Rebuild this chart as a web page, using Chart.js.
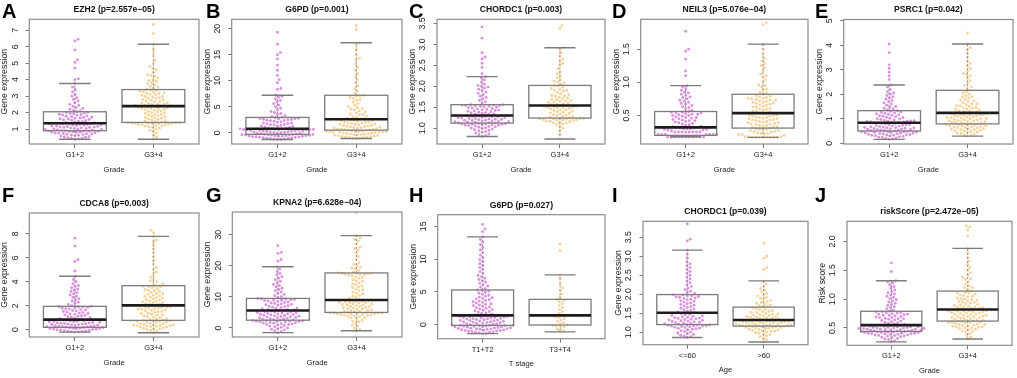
<!DOCTYPE html>
<html>
<head>
<meta charset="utf-8">
<script src="https://cdn.jsdelivr.net/npm/chart.js@4.4.0/dist/chart.umd.min.js"></script>
<style>
  body { margin: 0; background: #fff; }
  #fig { position: relative; width: 1017px; height: 378px; overflow: hidden; }
  #fig canvas { position: absolute; }
</style>
</head>
<body>
<div id="fig"></div>
<script>
// groups on the x axis
const gradeGroups = ['G1+2', 'G3+4'];
const tStageGroups = ['T1+T2', 'T3+T4'];
const ageGroups = ['<=60', '>60'];

const panelLetters = ['A', 'B', 'C', 'D', 'E', 'F', 'G', 'H', 'I', 'J'];
const panelTitles = ['EZH2 (p=2.557e\u221205)', 'G6PD (p=0.001)', 'CHORDC1 (p=0.003)', 'NEIL3 (p=5.076e\u221204)', 'PSRC1 (p=0.042)',
    'CDCA8 (p=0.003)', 'KPNA2 (p=6.628e\u221204)', 'G6PD (p=0.027)', 'CHORDC1 (p=0.039)', 'riskScore (p=2.472e\u221205)'];
const yTitles = ['Gene expression', 'Gene expression', 'Gene expression', 'Gene expression', 'Gene expression',
    'Gene expression', 'Gene expression', 'Gene expression', 'Gene expression', 'Risk score'];
const xTitles = ['Grade', 'Grade', 'Grade', 'Grade', 'Grade', 'Grade', 'Grade', 'T stage', 'Age', 'Grade'];
const xGroups = [gradeGroups, gradeGroups, gradeGroups, gradeGroups, gradeGroups,
    gradeGroups, gradeGroups, tStageGroups, ageGroups, gradeGroups];

// y tick labels
const ticksA = ['1', '2', '3', '4', '5', '6', '7'];
const ticksB = ['0', '5', '10', '15', '20'];
const ticksC = ['1.0', '1.5', '2.0', '2.5', '3.0', '3.5'];
const ticksD = ['0.5', '1.0', '1.5'];
const ticksE = ['0', '1', '2', '3', '4', '5'];
const ticksF = ['0', '2', '4', '6', '8'];
const ticksG = ['0', '10', '20', '30'];
const ticksH = ['0', '5', '10', '15'];
const ticksI = ['1.0', '1.5', '2.0', '2.5', '3.0', '3.5'];
const ticksJ = ['0.5', '1.0', '1.5', '2.0'];

// box stats per group: [lower whisker, q1, median, q3, upper whisker]
const boxA = [[0.38, 0.90, 1.35, 2.05, 3.77], [0.38, 1.40, 2.39, 3.40, 6.15]];
const boxB = [[-1.3, -0.3, 0.77, 2.95, 7.2], [-1.1, 0.5, 2.6, 7.2, 17.3]];
const boxC = [[0.80, 1.12, 1.30, 1.56, 2.23], [0.74, 1.24, 1.54, 2.02, 2.92]];
const boxD = [[0.18, 0.20, 0.32, 0.56, 0.95], [0.17, 0.31, 0.535, 0.82, 1.575]];
const boxE = [[0.16, 0.50, 0.84, 1.33, 2.38], [0.29, 0.79, 1.24, 2.16, 4.05]];
const boxF = [[-0.2, 0.2, 0.84, 1.95, 4.46], [-0.25, 0.78, 2.03, 3.68, 7.8]];
const boxG = [[-1.5, 2.5, 5.6, 9.5, 19.7], [-0.9, 5.0, 9.0, 17.7, 29.7]];
const boxH = [[-1.37, -0.1, 1.42, 5.3, 13.4], [-1.1, -0.05, 1.42, 3.86, 7.6]];
const boxI = [[0.86, 1.2, 1.51, 1.99, 3.16], [0.74, 1.16, 1.32, 1.66, 2.35]];
const boxJ = [[0.26, 0.44, 0.55, 0.79, 1.32], [0.31, 0.62, 0.82, 1.14, 1.88]];

// sample values
const ezh2G12 = [0.38,0.4,0.42,0.45,0.47,0.5,0.52,0.55,0.57,0.6,0.62,0.64,0.66,0.68,0.7,0.72,0.73,0.75,0.76,0.78,0.8,0.81,0.82,0.84,0.85,0.86,0.87,0.88,0.89,0.9,
    0.92,0.94,0.95,0.97,0.98,1.0,1.01,1.03,1.04,1.06,1.07,1.09,1.1,1.12,1.13,1.15,1.16,1.18,1.19,1.21,1.22,1.24,1.25,1.27,1.28,1.3,1.31,1.32,1.34,1.35,
    1.38,1.4,1.43,1.45,1.48,1.5,1.53,1.55,1.58,1.6,1.62,1.65,1.67,1.7,1.72,1.75,1.78,1.8,1.83,1.85,1.88,1.9,1.93,1.95,1.98,2.0,2.02,2.05,
    2.1,2.15,2.2,2.25,2.3,2.38,2.45,2.5,2.6,2.7,2.8,2.9,3.0,3.1,3.25,3.4,3.55,3.77,4.0,4.05,4.7,5.05,5.2,5.8,6.35,6.45];
const ezh2G34 = [0.38,0.5,0.62,0.75,0.85,0.92,1.0,1.05,1.1,1.15,1.18,1.22,1.25,1.28,1.3,1.32,1.34,1.35,1.36,1.37,1.38,1.4,
    1.45,1.5,1.55,1.6,1.65,1.7,1.75,1.8,1.85,1.9,1.95,2.0,2.05,2.1,2.15,2.2,2.25,2.28,2.3,2.33,2.36,2.39,
    2.42,2.45,2.5,2.53,2.56,2.6,2.65,2.7,2.75,2.8,2.85,2.9,2.95,3.0,3.05,3.1,3.15,3.2,3.25,3.3,3.35,3.4,
    3.5,3.6,3.7,3.8,3.9,4.0,4.1,4.2,4.3,4.45,4.6,4.7,4.8,5.0,5.2,5.5,5.8,6.15,6.8,7.35,
    1.2,1.26,1.33,1.38,1.42,1.48,1.58,1.68,1.78,1.88,1.98,2.08,2.18,2.26,2.35,2.44,2.48,2.58,2.68,2.78,2.88,2.98,3.08,3.18,3.28,3.38,3.55,3.75,3.95,4.25];

const g6pdG12 = [-1.35,-1.3,-1.25,-1.2,-1.15,-1.1,-1.05,-1.0,-0.95,-0.9,-0.85,-0.8,-0.78,-0.75,-0.7,-0.68,-0.65,-0.62,-0.6,-0.55,-0.52,-0.5,-0.48,-0.45,-0.42,-0.4,-0.38,-0.35,-0.32,-0.3,
    -0.25,-0.2,-0.15,-0.1,-0.05,0,0.05,0.1,0.12,0.15,0.2,0.25,0.28,0.3,0.35,0.4,0.42,0.45,0.5,0.52,0.55,0.58,0.6,0.62,0.65,0.68,0.7,0.72,0.75,0.77,
    0.85,0.9,1.0,1.1,1.2,1.25,1.3,1.4,1.5,1.55,1.6,1.7,1.8,1.85,1.9,2.0,2.1,2.2,2.3,2.35,2.4,2.5,2.55,2.6,2.65,2.7,2.75,2.8,2.9,2.95,
    3.1,3.3,3.5,3.7,3.9,4.1,4.4,4.7,5.0,5.3,5.6,5.9,6.2,6.5,6.8,7.0,7.2,8.3,8.5,9.6,10.2,11.0,12.0,13.0,14.2,15.0,15.4,17.0,19.3];
const g6pdG34 = [-1.1,-1.0,-0.9,-0.8,-0.7,-0.6,-0.5,-0.45,-0.4,-0.3,-0.2,-0.1,0,0.05,0.1,0.15,0.2,0.25,0.3,0.35,0.45,0.5,
    0.6,0.7,0.8,0.9,1.0,1.1,1.2,1.3,1.4,1.5,1.6,1.7,1.8,1.9,2.0,2.1,2.2,2.3,2.4,2.45,2.5,2.6,
    2.8,3.0,3.2,3.4,3.6,3.8,4.0,4.2,4.4,4.6,4.8,5.0,5.3,5.6,5.9,6.2,6.4,6.6,6.8,7.0,7.1,7.2,
    7.6,8.0,8.5,9.0,9.6,10.2,10.8,11.4,12.0,12.6,13.2,14.0,14.3,15.0,16.0,17.0,17.3,19.8,20.6,
    -1.05,-0.95,-0.85,-0.75,-0.65,-0.55,-0.35,-0.25,-0.15,-0.05,0.08,0.18,0.28,0.4,0.55,0.65,0.75,0.85,0.95,1.05,1.25,1.45,1.65,1.85,2.05,2.25,2.7,3.1,3.5,4.5];

const chordc1G12 = [0.8,0.82,0.84,0.86,0.88,0.9,0.92,0.93,0.95,0.96,0.98,0.99,1.0,1.01,1.02,1.03,1.04,1.05,1.06,1.07,1.07,1.08,1.08,1.09,1.09,1.1,1.1,1.11,1.11,1.12,
    1.13,1.13,1.14,1.14,1.15,1.15,1.16,1.17,1.17,1.18,1.19,1.19,1.2,1.21,1.21,1.22,1.23,1.23,1.24,1.25,1.25,1.26,1.27,1.27,1.28,1.28,1.29,1.29,1.3,1.3,
    1.31,1.32,1.33,1.34,1.35,1.36,1.37,1.38,1.39,1.4,1.41,1.42,1.43,1.44,1.45,1.46,1.47,1.48,1.49,1.5,1.51,1.52,1.52,1.53,1.54,1.54,1.55,1.55,1.56,1.56,
    1.6,1.63,1.66,1.7,1.73,1.76,1.8,1.83,1.86,1.9,1.93,1.96,1.98,2.0,2.02,2.05,2.1,2.15,2.2,2.23,2.3,2.45,2.55,2.65,2.7,2.8,3.15,3.42];
const chordc1G34 = [0.74,0.85,0.95,1.0,1.05,1.08,1.1,1.12,1.14,1.15,1.16,1.17,1.18,1.19,1.2,1.2,1.21,1.22,1.22,1.23,1.24,1.24,
    1.26,1.28,1.3,1.32,1.34,1.36,1.38,1.4,1.42,1.44,1.46,1.47,1.48,1.49,1.5,1.5,1.51,1.52,1.52,1.53,1.54,1.54,
    1.56,1.58,1.6,1.62,1.64,1.66,1.68,1.7,1.72,1.74,1.76,1.78,1.8,1.82,1.85,1.88,1.9,1.93,1.95,1.98,2.0,2.02,
    2.05,2.08,2.12,2.16,2.2,2.25,2.3,2.35,2.42,2.5,2.55,2.6,2.65,2.72,2.8,2.88,2.92,3.38,3.45,
    1.13,1.19,1.23,1.27,1.31,1.35,1.39,1.43,1.57,1.61,1.65,1.69,1.77,1.9,2.1];

const neil3G12 = [0.175,0.175,0.175,0.175,0.175,0.175,0.175,0.175,0.175,0.175,0.175,
    0.215,0.215,0.215,0.215,0.215,0.215,0.215,0.25,0.25,0.25,0.25,0.25,0.25,0.25,0.25,
    0.27,0.28,0.28,0.29,0.29,0.3,0.3,0.3,0.31,0.31,0.31,0.32,0.32,0.32,
    0.33,0.34,0.35,0.36,0.37,0.38,0.39,0.4,0.41,0.42,0.42,0.43,0.44,0.45,0.46,0.47,0.47,0.48,0.49,0.5,0.5,0.51,0.52,0.52,0.53,0.54,0.54,0.55,0.55,0.56,
    0.58,0.6,0.62,0.63,0.65,0.67,0.68,0.7,0.72,0.73,0.75,0.77,0.78,0.8,0.82,0.84,0.85,0.88,0.9,0.93,0.95,1.1,1.17,1.35,1.47,1.5,1.77];
const neil3G34 = [0.17,0.17,0.17,0.17,0.17,0.17,0.17,0.17,0.18,0.18,0.18,0.2,0.21,0.22,0.23,0.24,0.25,0.26,0.27,0.28,0.29,0.31,
    0.32,0.33,0.34,0.35,0.36,0.37,0.38,0.39,0.4,0.41,0.42,0.43,0.44,0.45,0.46,0.47,0.48,0.49,0.5,0.51,0.52,0.535,
    0.55,0.56,0.58,0.59,0.6,0.62,0.63,0.65,0.66,0.68,0.69,0.7,0.71,0.72,0.73,0.74,0.75,0.76,0.77,0.78,0.8,0.82,
    0.85,0.88,0.9,0.93,0.96,1.0,1.04,1.08,1.12,1.17,1.22,1.28,1.32,1.36,1.42,1.5,1.575,1.87,1.9,
    0.21,0.23,0.25,0.27,0.29,0.3,0.33,0.35,0.37,0.39,0.41,0.43,0.45,0.47,0.49,0.51,0.53,0.57,0.61,0.64,0.67,0.7,0.73,0.76,0.79,0.84,0.95,1.1,1.25];

const psrc1G12 = [0.16,0.18,0.2,0.22,0.24,0.25,0.27,0.28,0.3,0.31,0.32,0.33,0.34,0.35,0.36,0.37,0.38,0.39,0.4,0.41,0.42,0.43,0.44,0.45,0.46,0.47,0.47,0.48,0.49,0.5,
    0.51,0.52,0.53,0.54,0.55,0.56,0.57,0.58,0.59,0.6,0.61,0.62,0.63,0.64,0.65,0.66,0.67,0.68,0.7,0.71,0.72,0.73,0.75,0.76,0.77,0.79,0.8,0.81,0.83,0.84,
    0.85,0.86,0.87,0.88,0.89,0.9,0.9,0.91,0.92,0.93,0.95,0.97,0.99,1.0,1.02,1.04,1.06,1.08,1.1,1.12,1.14,1.16,1.18,1.2,1.22,1.24,1.26,1.28,1.3,1.33,
    1.36,1.4,1.43,1.47,1.5,1.55,1.6,1.65,1.7,1.75,1.8,1.85,1.9,1.95,2.0,2.05,2.1,2.2,2.3,2.38,2.6,2.75,2.9,3.05,3.2,3.7,4.05];
const psrc1G34 = [0.29,0.32,0.35,0.38,0.42,0.45,0.48,0.5,0.53,0.56,0.58,0.6,0.62,0.64,0.66,0.68,0.7,0.72,0.74,0.76,0.77,0.79,
    0.81,0.83,0.85,0.87,0.89,0.91,0.93,0.95,0.97,0.99,1.01,1.03,1.05,1.07,1.09,1.11,1.13,1.15,1.17,1.19,1.21,1.24,
    1.27,1.3,1.33,1.36,1.4,1.43,1.46,1.5,1.53,1.57,1.6,1.65,1.7,1.75,1.8,1.85,1.9,1.95,2.0,2.05,2.1,2.16,
    2.25,2.35,2.45,2.55,2.65,2.75,2.85,2.95,3.05,3.15,3.25,3.35,3.5,3.65,3.8,3.9,4.05,4.5,
    0.4,0.46,0.52,0.55,0.59,0.63,0.67,0.71,0.75,0.8,0.84,0.88,0.92,0.96,1.0,1.04,1.08,1.12,1.16,1.2,1.25,1.32,1.38,1.45,1.52,1.6,1.72,1.9,2.3,2.8];

const cdca8G12 = [-0.2,-0.18,-0.16,-0.14,-0.12,-0.1,-0.08,-0.05,-0.02,0,0.02,0.04,0.05,0.07,0.09,0.1,0.12,0.13,0.15,0.17,0.18,0.2,
    0.22,0.24,0.26,0.28,0.3,0.32,0.34,0.36,0.38,0.4,0.42,0.44,0.46,0.48,0.5,0.52,0.54,0.56,0.58,0.6,0.62,0.64,0.66,0.68,0.7,0.72,0.75,0.78,0.81,0.84,
    0.88,0.92,0.96,1.0,1.04,1.08,1.12,1.16,1.2,1.24,1.28,1.32,1.36,1.4,1.44,1.48,1.52,1.56,1.6,1.64,1.68,1.72,1.76,1.8,1.84,1.87,1.9,1.92,1.94,1.95,
    2.0,2.1,2.2,2.3,2.4,2.5,2.6,2.7,2.8,2.9,3.0,3.1,3.2,3.3,3.4,3.5,3.6,3.7,3.85,4.0,4.2,4.46,4.9,5.7,5.85,7.0,7.65];
const cdca8G34 = [-0.25,-0.1,0,0.1,0.15,0.2,0.25,0.28,0.3,0.32,0.35,0.38,0.4,0.45,0.5,0.55,0.6,0.63,0.68,0.72,0.75,0.78,
    0.85,0.92,1.0,1.08,1.15,1.22,1.3,1.38,1.45,1.52,1.58,1.64,1.7,1.75,1.8,1.85,1.88,1.92,1.95,1.98,2.0,2.03,
    2.1,2.18,2.25,2.32,2.4,2.48,2.56,2.64,2.72,2.8,2.88,2.96,3.04,3.12,3.2,3.28,3.36,3.44,3.52,3.58,3.63,3.68,
    3.8,3.95,4.1,4.25,4.4,4.6,4.8,5.0,5.2,5.5,5.8,6.1,6.4,6.7,7.0,7.3,7.5,7.8,8.1,8.3,
    -0.05,0.05,0.12,0.22,0.33,0.42,0.52,0.62,0.7,0.8,0.9,1.05,1.2,1.35,1.5,1.62,1.72,1.82,1.9,2.06,2.14,2.22,2.36,2.52,2.68,2.84,3.0,3.3,3.6,4.0];

const kpna2G12 = [-1.5,-1.2,-0.9,-0.6,-0.4,-0.2,0,0.2,0.4,0.6,0.8,1.0,1.1,1.2,1.3,1.4,1.5,1.6,1.7,1.8,1.9,2.0,2.05,2.1,2.15,2.2,2.3,2.35,2.4,2.5,
    2.6,2.7,2.8,2.9,3.0,3.1,3.2,3.3,3.4,3.5,3.6,3.7,3.8,3.9,4.0,4.1,4.2,4.3,4.4,4.5,4.6,4.7,4.8,4.9,5.0,5.1,5.2,5.3,5.45,5.6,
    5.7,5.8,5.9,6.0,6.1,6.25,6.4,6.55,6.7,6.85,7.0,7.15,7.3,7.45,7.6,7.75,7.9,8.05,8.2,8.35,8.5,8.65,8.8,8.9,9.0,9.1,9.2,9.3,9.4,9.5,
    9.8,10.1,10.4,10.8,11.2,11.6,12.0,12.4,12.8,13.2,13.6,14.0,14.5,15.0,15.5,16.0,16.5,17.0,17.5,18.2,19.0,19.7,21.5,22.0,24.0,24.3,26.5];
const kpna2G34 = [-0.9,-0.5,0,0.5,1.0,1.5,2.0,2.5,3.0,3.3,3.6,3.8,4.0,4.2,4.3,4.4,4.5,4.6,4.7,4.8,4.9,5.0,
    5.2,5.4,5.6,5.8,6.0,6.2,6.4,6.6,6.8,7.0,7.2,7.4,7.6,7.8,8.0,8.2,8.4,8.5,8.6,8.8,8.9,9.0,
    9.5,10.0,10.5,11.0,11.5,12.0,12.5,13.0,13.5,14.0,14.5,15.0,15.5,16.0,16.4,16.8,17.0,17.2,17.4,17.5,17.6,17.7,
    18.0,18.5,19.0,19.5,20.0,20.5,21.0,22.0,23.0,24.0,25.0,25.5,26.0,27.0,28.0,28.5,29.0,29.7,37.0,
    2.2,3.2,3.9,4.1,4.35,4.55,4.75,4.95,5.3,5.7,6.1,6.5,6.9,7.3,7.7,8.1,8.3,8.7,9.2,10.2,11.2,12.2,13.2,14.2,15.2,16.2,17.1,17.3,17.8,19.2];

const g6pdT12 = [-1.37,-1.3,-1.25,-1.2,-1.15,-1.1,-1.05,-1.0,-0.95,-0.9,-0.87,-0.84,-0.8,-0.77,-0.74,-0.7,-0.67,-0.64,-0.6,-0.57,-0.54,-0.5,-0.47,-0.44,-0.4,-0.37,-0.34,-0.3,-0.27,-0.24,-0.2,-0.17,-0.15,-0.13,-0.11,-0.1,
    -0.05,0,0.05,0.1,0.15,0.2,0.25,0.3,0.33,0.36,0.4,0.45,0.5,0.55,0.6,0.63,0.66,0.7,0.75,0.8,0.85,0.9,0.93,0.96,1.0,1.05,1.1,1.13,1.16,1.2,1.24,1.28,1.32,1.35,1.38,1.42,
    1.5,1.6,1.7,1.8,1.9,2.0,2.1,2.2,2.3,2.4,2.5,2.6,2.7,2.8,2.9,3.0,3.1,3.2,3.3,3.4,3.5,3.6,3.7,3.8,3.9,4.0,4.1,4.2,4.35,4.5,4.65,4.8,4.95,5.1,5.2,5.3,
    5.5,5.7,5.9,6.1,6.3,6.5,6.7,6.9,7.1,7.3,7.5,7.8,8.1,8.4,8.7,9.0,9.3,9.6,9.9,10.2,10.6,11.0,11.4,11.8,12.2,12.6,13.0,13.4,14.2,14.6,15.3];
const g6pdT34 = [-1.1,-0.9,-0.7,-0.5,-0.3,-0.2,-0.1,-0.05,0.1,0.3,0.5,0.7,0.9,1.1,1.2,1.3,1.4,1.42,
    1.5,1.7,2.0,2.3,2.6,2.9,3.2,3.5,3.7,3.86,4.2,4.7,5.2,5.6,6.2,7.0,7.6,11.3,12.3];

const chordc1Young = [0.86,0.88,0.9,0.92,0.94,0.96,0.98,1.0,1.02,1.04,1.06,1.08,1.09,1.1,1.11,1.12,1.13,1.14,1.15,1.16,1.16,1.17,1.17,1.18,1.19,1.19,1.2,
    1.21,1.22,1.23,1.24,1.25,1.26,1.27,1.28,1.29,1.3,1.31,1.32,1.33,1.34,1.35,1.36,1.37,1.38,1.39,1.4,1.42,1.43,1.44,1.46,1.47,1.49,1.51,
    1.53,1.55,1.57,1.59,1.61,1.63,1.65,1.67,1.69,1.71,1.73,1.75,1.77,1.79,1.81,1.83,1.85,1.87,1.89,1.9,1.92,1.93,1.94,1.95,1.96,1.98,1.99,
    2.02,2.05,2.08,2.12,2.16,2.2,2.25,2.3,2.35,2.4,2.45,2.5,2.55,2.6,2.65,2.7,2.75,2.8,2.85,2.95,3.05,3.16,3.4,3.45,3.85];
const chordc1Old = [0.74,0.8,0.85,0.88,0.9,0.93,0.95,0.97,0.99,1.0,1.02,1.03,1.04,1.05,1.06,1.07,1.08,1.09,1.1,1.11,1.12,1.12,1.13,1.14,1.15,1.15,1.16,
    1.17,1.17,1.18,1.18,1.19,1.19,1.2,1.2,1.21,1.22,1.22,1.23,1.24,1.24,1.25,1.26,1.26,1.27,1.27,1.28,1.28,1.29,1.3,1.3,1.31,1.31,1.32,
    1.33,1.34,1.35,1.36,1.37,1.38,1.39,1.4,1.41,1.42,1.43,1.44,1.45,1.46,1.47,1.48,1.5,1.51,1.52,1.54,1.55,1.57,1.59,1.6,1.62,1.64,1.66,
    1.68,1.7,1.72,1.74,1.76,1.78,1.8,1.83,1.86,1.89,1.92,1.95,1.98,2.02,2.06,2.1,2.15,2.2,2.27,2.35,2.65,2.7,2.95,3.0,3.35];

const riskG12 = [0.26,0.28,0.3,0.31,0.32,0.33,0.34,0.35,0.36,0.36,0.37,0.37,0.38,0.38,0.39,0.39,0.4,0.4,0.4,0.41,0.41,0.41,0.42,0.42,0.42,0.43,0.43,0.43,0.44,0.44,
    0.45,0.45,0.45,0.46,0.46,0.46,0.47,0.47,0.47,0.48,0.48,0.48,0.49,0.49,0.49,0.5,0.5,0.5,0.51,0.51,0.51,0.52,0.52,0.52,0.53,0.53,0.54,0.54,0.55,0.55,
    0.56,0.57,0.58,0.59,0.6,0.61,0.62,0.63,0.64,0.65,0.66,0.66,0.67,0.68,0.68,0.69,0.7,0.71,0.72,0.72,0.73,0.74,0.74,0.75,0.76,0.76,0.77,0.78,0.78,0.79,
    0.81,0.83,0.85,0.87,0.89,0.91,0.93,0.95,0.97,0.99,1.01,1.03,1.05,1.07,1.09,1.11,1.13,1.16,1.19,1.22,1.25,1.28,1.3,1.32,1.48,1.63];
const riskG34 = [0.31,0.34,0.37,0.4,0.43,0.45,0.47,0.49,0.5,0.51,0.52,0.53,0.54,0.55,0.56,0.57,0.58,0.59,0.6,0.6,0.61,0.62,
    0.63,0.64,0.65,0.66,0.67,0.68,0.69,0.7,0.71,0.72,0.73,0.74,0.75,0.76,0.77,0.78,0.79,0.79,0.8,0.8,0.81,0.82,
    0.83,0.84,0.85,0.86,0.87,0.88,0.9,0.91,0.93,0.94,0.96,0.97,0.99,1.0,1.02,1.04,1.05,1.07,1.09,1.1,1.12,1.14,
    1.17,1.2,1.23,1.26,1.3,1.34,1.38,1.42,1.46,1.5,1.55,1.6,1.66,1.72,1.8,1.88,2.1,2.2,2.25,2.27,
    0.44,0.48,0.5,0.52,0.54,0.56,0.58,0.6,0.62,0.64,0.66,0.68,0.7,0.72,0.74,0.76,0.78,0.8,0.83,0.85,0.87,0.89,0.92,0.95,0.98,1.01,1.06,1.11,1.2,1.35];

const panelValues = [[ezh2G12, ezh2G34], [g6pdG12, g6pdG34], [chordc1G12, chordc1G34], [neil3G12, neil3G34], [psrc1G12, psrc1G34],
    [cdca8G12, cdca8G34], [kpna2G12, kpna2G34], [g6pdT12, g6pdT34], [chordc1Young, chordc1Old], [riskG12, riskG34]];
const panelBoxes = [boxA, boxB, boxC, boxD, boxE, boxF, boxG, boxH, boxI, boxJ];
const panelTicks = [ticksA, ticksB, ticksC, ticksD, ticksE, ticksF, ticksG, ticksH, ticksI, ticksJ];

const groupColors = ['#dc90e0', '#f7d39a'];

// layout: canvas cell [x, y, w, h], plot frame [left, top, right, bottom], y range
const layout = [
    { cell: [0, 0, 203, 188],   frame: [29.3, 19.3, 199.3, 144],  y: [0.09, 7.67] },
    { cell: [203, 0, 203, 188], frame: [231.7, 19.3, 402.3, 144], y: [-2.16, 21.8] },
    { cell: [406, 0, 203, 188], frame: [437, 19.3, 605.5, 144],   y: [0.62, 3.6] },
    { cell: [609, 0, 203, 188], frame: [640.7, 19.3, 808.3, 144], y: [0.07, 1.95] },
    { cell: [812, 0, 205, 188], frame: [843.7, 19.5, 1013.7, 144], y: [-0.03, 5.05] },
    { cell: [0, 186, 203, 192],   frame: [29.3, 213, 199.3, 337],   y: [-0.61, 9.75] },
    { cell: [203, 186, 203, 192], frame: [232.3, 212, 402.3, 337],  y: [-2.9, 37.3] },
    { cell: [406, 186, 203, 192], frame: [437.7, 214.7, 606, 338.7], y: [-2.14, 16.78] },
    { cell: [609, 186, 203, 192], frame: [643, 221.3, 809, 344.7],  y: [0.67, 3.92] },
    { cell: [812, 186, 205, 192], frame: [847, 221.3, 1012, 345.3], y: [0.2, 2.35] }
];

const sans = "'Liberation Sans', Arial, sans-serif";
const dotSpacing = 3.6;


// beeswarm: place points in ascending order at the free x offset closest to the centre
function swarm(vals, pxPerY, d) {
    const order = vals.map((v, i) => i).sort((a, b) => vals[a] - vals[b]);
    const placed = [];
    const offsets = new Array(vals.length).fill(0);
    order.forEach(i => {
        const y = vals[i] * pxPerY;
        const near = placed.filter(p => Math.abs(p.y - y) < d);
        const cands = [0];
        near.forEach(p => {
            const dx = Math.sqrt(d * d - (p.y - y) * (p.y - y));
            cands.push(p.x + dx, p.x - dx);
        });
        cands.sort((a, b) => Math.abs(a) - Math.abs(b));
        let best = 0;
        for (const c of cands) {
            if (near.every(p => (p.x - c) * (p.x - c) + (p.y - y) * (p.y - y) >= d * d - 1e-6)) {
                best = c;
                break;
            }
        }
        offsets[i] = best;
        placed.push({ x: best, y });
    });
    return offsets;
}


const boxPlugin = {
    id: 'boxes',
    afterDatasetsDraw(chart, args, opts) {
        const ctx = chart.ctx;
        const xs = chart.scales.x;
        const ys = chart.scales.y;
        ctx.save();
        opts.stats.forEach((s, g) => {
            const xc = xs.getPixelForValue(g + 1);
            const half = xs.getPixelForValue(g + 1.4) - xc;
            const [lo, q1, med, q3, hi] = s.map(v => ys.getPixelForValue(v));

            ctx.strokeStyle = '#8a8a8a';
            ctx.lineWidth = 1;
            ctx.setLineDash([2, 2]);
            ctx.beginPath();
            ctx.moveTo(xc, q3); ctx.lineTo(xc, hi);
            ctx.moveTo(xc, q1); ctx.lineTo(xc, lo);
            ctx.stroke();
            ctx.setLineDash([]);

            ctx.strokeStyle = '#7c7c7c';
            ctx.lineWidth = 1.4;
            ctx.beginPath();
            ctx.moveTo(xc - half / 2, hi); ctx.lineTo(xc + half / 2, hi);
            ctx.moveTo(xc - half / 2, lo); ctx.lineTo(xc + half / 2, lo);
            ctx.stroke();

            ctx.lineWidth = 1.3;
            ctx.strokeRect(xc - half, q3, half * 2, q1 - q3);

            ctx.strokeStyle = '#1c1c1c';
            ctx.lineWidth = 2.6;
            ctx.beginPath();
            ctx.moveTo(xc - half, med); ctx.lineTo(xc + half, med);
            ctx.stroke();
        });
        ctx.restore();
    },
    afterDraw(chart, args, opts) {
        const ctx = chart.ctx;
        const a = chart.chartArea;
        const ys = chart.scales.y;
        ctx.save();
        ctx.strokeStyle = '#8c8c8c';
        ctx.lineWidth = 1.2;
        ctx.strokeRect(a.left, a.top, a.right - a.left, a.bottom - a.top);

        // rotated y tick labels, R style
        ctx.fillStyle = '#222';
        ctx.font = '8.7px ' + sans;
        ctx.textAlign = 'center';
        ctx.textBaseline = 'middle';
        opts.ticks.forEach(t => {
            ctx.save();
            ctx.translate(a.left - 14, ys.getPixelForValue(parseFloat(t)));
            ctx.rotate(-Math.PI / 2);
            ctx.fillText(t, 0, 0);
            ctx.restore();
        });

        ctx.fillStyle = '#000';
        ctx.font = 'bold 20px ' + sans;
        ctx.textAlign = 'left';
        ctx.textBaseline = 'alphabetic';
        ctx.fillText(opts.letter, opts.letterX, opts.letterY);
        ctx.restore();
    }
};


function makePanel(i) {
    const L = layout[i];
    const [cx, cy, cw, ch] = L.cell;
    const [fl, ft, fr, fb] = L.frame;
    const canvas = document.createElement('canvas');
    canvas.width = cw;
    canvas.height = ch;
    canvas.style.left = cx + 'px';
    canvas.style.top = cy + 'px';
    document.getElementById('fig').appendChild(canvas);

    const pxPerX = (fr - fl) / 2.16;
    const pxPerY = (fb - ft) / (L.y[1] - L.y[0]);
    const datasets = panelValues[i].map((vals, g) => {
        const offs = swarm(vals, pxPerY, dotSpacing);
        return {
            data: vals.map((v, k) => ({ x: g + 1 + offs[k] / pxPerX, y: v })),
            backgroundColor: groupColors[g],
            pointRadius: 1.45,
            pointBorderWidth: 0
        };
    });

    const titleSize = 8.6;
    const titleLh = titleSize * 1.2;
    const titleCentre = ft - 9.5 - cy;
    const yTitleLh = 8.7 * 1.2;
    const xTitleLh = 7.6 * 1.2;
    const groups = xGroups[i];

    new Chart(canvas, {
        type: 'scatter',
        data: { datasets },
        options: {
            responsive: false,
            animation: false,
            events: [],
            layout: { padding: { left: 0, top: 0, bottom: 0, right: cx + cw - fr } },
            scales: {
                x: {
                    type: 'linear',
                    min: 0.42,
                    max: 2.58,
                    afterBuildTicks: s => { s.ticks = [{ value: 1 }, { value: 2 }]; },
                    afterFit: s => { s.height = cy + ch - fb; },
                    border: { display: false },
                    grid: { drawOnChartArea: false, drawTicks: true, tickLength: 4, tickColor: '#777' },
                    ticks: {
                        autoSkip: false, maxRotation: 0, padding: 2.5, color: '#222',
                        font: { family: sans, size: 7.5 },
                        callback: v => groups[Math.round(v) - 1]
                    },
                    title: {
                        display: true, text: xTitles[i], color: '#222',
                        font: { family: sans, size: 7.6 },
                        padding: { top: 0, bottom: ch - (fb + 25.5 - cy) - xTitleLh / 2 }
                    }
                },
                y: {
                    type: 'linear',
                    min: L.y[0],
                    max: L.y[1],
                    afterBuildTicks: s => { s.ticks = panelTicks[i].map(t => ({ value: parseFloat(t) })); },
                    afterFit: s => { s.width = fl - cx; },
                    border: { display: false },
                    grid: { drawOnChartArea: false, drawTicks: true, tickLength: 3.5, tickColor: '#777' },
                    ticks: { display: false },
                    title: {
                        display: true, text: yTitles[i], color: '#222',
                        font: { family: sans, size: 8.7 },
                        padding: { top: (fl - cx - 24.5) - yTitleLh / 2, bottom: 0 }
                    }
                }
            },
            plugins: {
                legend: { display: false },
                tooltip: { enabled: false },
                title: {
                    display: true,
                    fullSize: false,
                    text: panelTitles[i],
                    color: '#111',
                    font: { family: sans, size: titleSize, weight: 'bold' },
                    padding: { top: titleCentre - titleLh / 2, bottom: (ft - cy) - titleCentre - titleLh / 2 }
                },
                boxes: {
                    stats: panelBoxes[i],
                    ticks: panelTicks[i],
                    letter: panelLetters[i],
                    letterX: (i % 5 === 0 ? 2 : 3),
                    letterY: i < 5 ? 18 : 202 - cy
                }
            }
        },
        plugins: [boxPlugin]
    });
}

for (let i = 0; i < 10; i++) makePanel(i);
</script>
</body>
</html>
